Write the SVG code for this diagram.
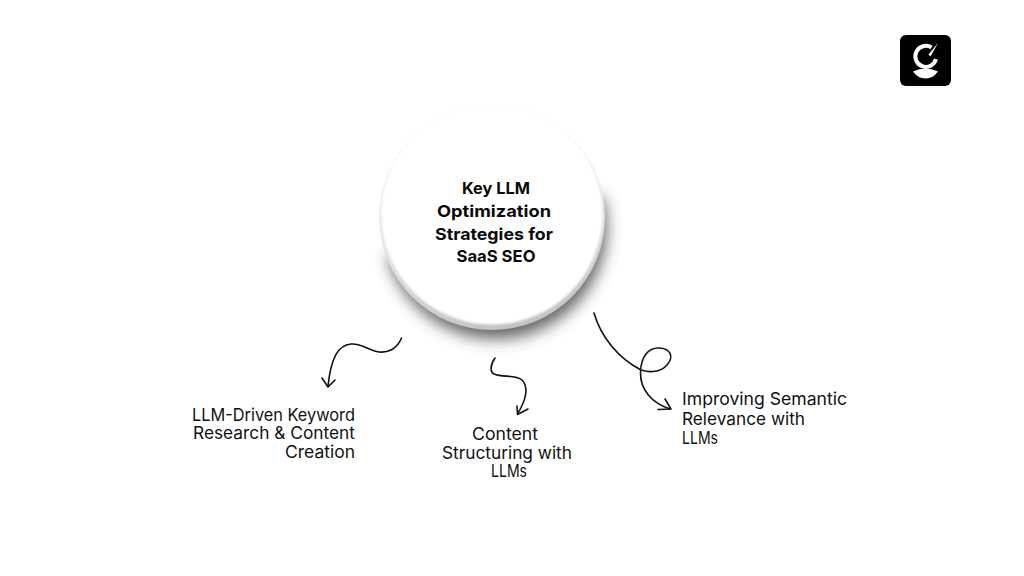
<svg xmlns="http://www.w3.org/2000/svg" width="1024" height="576" viewBox="0 0 1024 576">
<style>
.t{font-family:"Inter","Liberation Sans",sans-serif;fill:#111}
.h{font-size:16.500px;font-weight:700;text-anchor:middle;fill:#0a0a0a}
.l{font-size:17px;font-weight:400}
.c{fill:none;stroke:#111;stroke-width:1.600;stroke-linecap:round;stroke-linejoin:round}
</style>
<defs>
<filter id="b" x="-30%" y="-30%" width="160%" height="160%"><feGaussianBlur stdDeviation="8"/></filter>
<filter id="s" x="-10%" y="-10%" width="120%" height="120%"><feGaussianBlur stdDeviation="1"/></filter>
<linearGradient id="r" x1="0.35" y1="0" x2="0.6" y2="1"><stop offset="0" stop-color="#fafafa"/><stop offset="0.5" stop-color="#e6e6e6"/><stop offset="1" stop-color="#c2c2c2"/></linearGradient>
</defs>
<rect width="1024" height="576" fill="#fff"/>
<g id="center-node">
<path d="M388 245A111 111 0 0 0 606 225A113 113 0 0 0 602 185L388 245Z" fill="#3a3a3a" opacity="0.8" filter="url(#b)" transform="translate(0,11)"/>
<circle cx="492" cy="217" r="113" fill="url(#r)"/>
<circle cx="492" cy="214" r="110.500" fill="#fff" filter="url(#s)"/>
<text class="t h"><tspan x="496" y="194" textLength="68" lengthAdjust="spacingAndGlyphs">Key LLM</tspan><tspan x="494" y="217" textLength="114" lengthAdjust="spacingAndGlyphs">Optimization</tspan><tspan x="494" y="239.500" textLength="118" lengthAdjust="spacingAndGlyphs">Strategies for</tspan><tspan x="496" y="262" textLength="79" lengthAdjust="spacingAndGlyphs">SaaS SEO</tspan></text>
</g>
<g id="connectors">
<path class="c" d="M401.500 338C397 349 388 353 379 352C369 351 362 343 351 344C338 345 331 358 328 386"/>
<path class="c" d="M322 378L328 387L335 380"/>
<path class="c" d="M495 358C490 365 490 372 494 374C502 378 515 374 522 380C529 387 526 400 518 413"/>
<path class="c" d="M517 406L517.500 414.500L528 409"/>
<path class="c" d="M594 313C601 337 618 358 641 370C650 373 661 372 667 365C674 357 671 349 660 348C648 347 641 357 640.500 372C640 390 652 403 670 409"/>
<path class="c" d="M665 399L671 409L658 409.500"/>
</g>
<g id="node-keyword">
<text class="t l" text-anchor="end"><tspan x="355" y="420.500" textLength="163" lengthAdjust="spacingAndGlyphs">LLM-Driven Keyword</tspan><tspan x="355" y="439" textLength="162" lengthAdjust="spacingAndGlyphs">Research &amp; Content</tspan><tspan x="355" y="457.500" textLength="70" lengthAdjust="spacingAndGlyphs">Creation</tspan></text>
</g>
<g id="node-structuring">
<text class="t l" text-anchor="middle"><tspan x="505" y="440" textLength="66" lengthAdjust="spacingAndGlyphs">Content</tspan><tspan x="507" y="458.500" textLength="130" lengthAdjust="spacingAndGlyphs">Structuring with</tspan><tspan x="509" y="477" textLength="36" lengthAdjust="spacingAndGlyphs">LLMs</tspan></text>
</g>
<g id="node-semantic">
<text class="t l"><tspan x="682" y="405" textLength="165" lengthAdjust="spacingAndGlyphs">Improving Semantic</tspan><tspan x="682" y="424.500" textLength="123" lengthAdjust="spacingAndGlyphs">Relevance with</tspan><tspan x="682" y="444" textLength="36" lengthAdjust="spacingAndGlyphs">LLMs</tspan></text>
</g>
<g id="logo">
<rect x="900" y="35" width="51" height="51" rx="6" fill="#000"/>
<path d="M931.500 47.500A10.500 10.500 0 1 0 936 59" fill="none" stroke="#fff" stroke-width="4"/>
<path d="M938 43L928.500 54.500L930.500 56.500Z" fill="#fff"/>
<path d="M913 71.500Q925.500 65.500 938 71.500Q933 78.500 925.500 78.500Q918 78.500 913 71.500Z" fill="#fff"/>
</g>
</svg>
